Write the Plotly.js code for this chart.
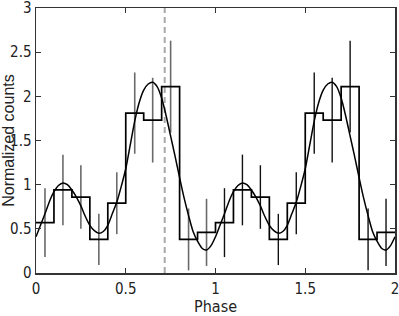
<!DOCTYPE html>
<html>
<head>
<meta charset="utf-8">
<script src="https://cdn.plot.ly/plotly-3.0.1.min.js"></script>
<style>html,body{margin:0;padding:0;background:#fff;}#chart{width:399px;height:316px;}</style>
</head>
<body>
<div id="chart"></div>
<script>
// Bin edges (phase) for two cycles
const binEdges = [0,0.1,0.2,0.3,0.4,0.5,0.6,0.7,0.8,0.9,1.0,1.1,1.2,1.3,1.4,1.5,1.6,1.7,1.8,1.9,2.0];
// Bin centres, cycle 1 and cycle 2
const centers1 = [0.05,0.15,0.25,0.35,0.45,0.55,0.65,0.75,0.85,0.95];
const centers2 = [1.05,1.15,1.25,1.35,1.45,1.55,1.65,1.75,1.85,1.95];
// Normalized counts per bin
const counts1 = [0.57,0.94,0.86,0.38,0.79,1.81,1.73,2.11,0.38,0.46];
const counts2 = [0.57,0.94,0.86,0.38,0.79,1.81,1.73,2.11,0.38,0.46];
// Error bar half-lengths
const errors1 = [0.39,0.40,0.36,0.29,0.35,0.46,0.48,0.52,0.35,0.38];
const errors2 = [0.39,0.40,0.36,0.29,0.35,0.46,0.48,0.52,0.35,0.38];
// Fitted model curve
const curvePhase = [0,0.025,0.05,0.075,0.1,0.125,0.15,0.175,0.2,0.225,0.25,0.275,0.3,0.325,0.35,0.375,0.4,0.425,0.45,0.475,0.5,0.525,0.55,0.575,0.6,0.625,0.65,0.675,0.7,0.725,0.75,0.775,0.8,0.825,0.85,0.875,0.9,0.925,0.95,0.975,
  1.0,1.025,1.05,1.075,1.1,1.125,1.15,1.175,1.2,1.225,1.25,1.275,1.3,1.325,1.35,1.375,1.4,1.425,1.45,1.475,1.5,1.525,1.55,1.575,1.6,1.625,1.65,1.675,1.7,1.725,1.75,1.775,1.8,1.825,1.85,1.875,1.9,1.925,1.95,1.975,2.0];
const curveValue = [0.41,0.54,0.67,0.81,0.92,0.99,1.02,1.00,0.94,0.86,0.76,0.64,0.54,0.48,0.45,0.47,0.54,0.67,0.80,0.98,1.18,1.45,1.72,1.93,2.07,2.14,2.16,2.11,1.98,1.78,1.55,1.32,1.08,0.85,0.65,0.47,0.36,0.28,0.26,0.31,
  0.41,0.54,0.67,0.81,0.92,0.99,1.02,1.00,0.94,0.86,0.76,0.64,0.54,0.48,0.45,0.47,0.54,0.67,0.80,0.98,1.18,1.45,1.72,1.93,2.07,2.14,2.16,2.11,1.98,1.78,1.55,1.32,1.08,0.85,0.65,0.47,0.36,0.28,0.26,0.31,0.41];
// Reference phase marked by the dashed line
const markerPhase = 0.717;
// Tick labels
const xTicks = [0,0.5,1,1.5,2];
const xTickText = ['0','0.5','1','1.5','2'];
const yTicks = [0,0.5,1,1.5,2,2.5,3];
const yTickText = ['0','0.5','1','1.5','2','2.5','3'];

const allCounts = counts1.concat(counts2);
const stepY = allCounts.concat([allCounts[allCounts.length-1]]);

const traces = [
  {x: centers1, y: counts1, type:'scatter', mode:'markers', marker:{size:1, opacity:0},
   error_y:{type:'data', array: errors1, visible:true, width:0, thickness:1.6, color:'#6a6a6a'},
   hoverinfo:'skip', showlegend:false},
  {x: centers2, y: counts2, type:'scatter', mode:'markers', marker:{size:1, opacity:0},
   error_y:{type:'data', array: errors2, visible:true, width:0, thickness:1.4, color:'#111'},
   hoverinfo:'skip', showlegend:false},
  {x: binEdges, y: stepY, type:'scatter', mode:'lines', line:{shape:'hv', color:'#000', width:1.7},
   showlegend:false},
  {x: curvePhase, y: curveValue, type:'scatter', mode:'lines', line:{shape:'spline', smoothing:0.6, color:'#000', width:1.5},
   showlegend:false}
];

const narrow = '"Liberation Sans Narrow", "Arial Narrow", "DejaVu Sans Condensed", sans-serif';
const regular = '"Liberation Sans", Arial, sans-serif';
const layout = {
  width:399, height:316,
  margin:{l:36, r:4, t:8, b:43},
  paper_bgcolor:'#fff', plot_bgcolor:'#fff',
  font: {family: narrow, size:15, color:'#222'},
  showlegend:false,
  xaxis:{range:[0,2], tickvals:xTicks, ticktext:xTickText, ticks:'inside', ticklen:5, tickwidth:1, tickcolor:'#333',
    showline:true, linecolor:'#333', linewidth:1.5, mirror:'ticks', showgrid:false, zeroline:false,
    ticklabeloverflow:'allow', ticklabelstandoff:1,
    tickfont:{family:narrow, size:15, color:'#222'},
    title:{text:'Phase', font:{family:narrow, size:16, color:'#222'}}},
  yaxis:{range:[0,3], tickvals:yTicks, ticktext:yTickText, ticks:'inside', ticklen:5, tickwidth:1, tickcolor:'#333',
    showline:true, linecolor:'#333', linewidth:1.5, mirror:'ticks', showgrid:false, zeroline:false,
    ticklabeloverflow:'allow',
    tickfont:{family:narrow, size:15, color:'#222'},
    title:{text:'Normalized counts', font:{family:regular, size:16, color:'#222'}}},
  shapes:[{type:'line', xref:'x', yref:'paper', x0:markerPhase, x1:markerPhase, y0:0, y1:1,
    line:{color:'#a8a8a8', width:2, dash:'6px,4px'}, layer:'below'}]
};
Plotly.newPlot('chart', traces, layout, {displayModeBar:false, staticPlot:true});
</script>
</body>
</html>
